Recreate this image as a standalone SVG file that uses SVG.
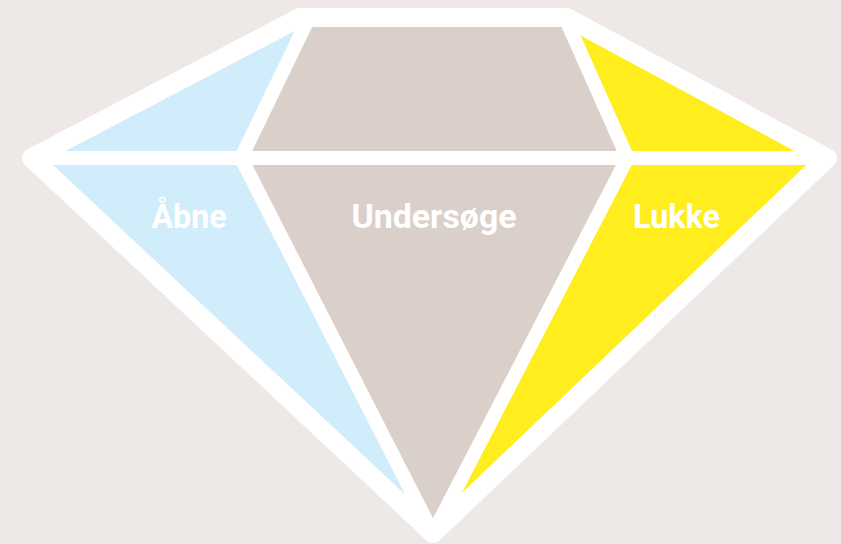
<svg xmlns="http://www.w3.org/2000/svg" width="841" height="544" viewBox="0 0 841 544">
  <style>
    .blue { fill: #D1ECFA; }
    .taupe { fill: #DBCFCA; }
    .yellow { fill: #FFED1D; }
    .outline { fill: none; stroke: #FFFFFF; stroke-width: 19; stroke-linejoin: round; }
    .inner { fill: none; stroke: #FFFFFF; stroke-width: 14; stroke-linejoin: miter; }
    .label { font-family: Roboto, "Open Sans", "Liberation Sans", sans-serif; font-weight: 700; font-size: 34px; fill: #FFFFFF; text-anchor: middle; }
  </style>
  <rect width="841" height="544" fill="#EEE9E6"/>
  <g id="abne-top"><polygon class="blue" points="31.5,158 300,17.5 309,17.5 241,158"/></g>
  <g id="abne"><polygon class="blue" points="31.5,158 241,158 433,533.5"/><text class="label" x="189" y="228" textLength="75" lengthAdjust="spacingAndGlyphs">Åbne</text></g>
  <g id="undersoge-top"><polygon class="taupe" points="309,17.5 565,17.5 627.5,158 241,158"/></g>
  <g id="undersoge"><polygon class="taupe" points="241,158 627.5,158 433,533.5"/><text class="label" x="434" y="228" textLength="165" lengthAdjust="spacingAndGlyphs">Undersøge</text></g>
  <g id="lukke-top"><polygon class="yellow" points="565,17.5 567,17.5 827.5,158 627.5,158"/></g>
  <g id="lukke"><polygon class="yellow" points="627.5,158 827.5,158 433,533.5"/><text class="label" x="676.5" y="228" textLength="87" lengthAdjust="spacingAndGlyphs">Lukke</text></g>
  <g id="connectors">
    <line class="inner" x1="31.5" y1="158" x2="827.5" y2="158"/>
    <polyline class="inner" points="309,17.5 241,158 433,533.5"/>
    <polyline class="inner" points="565,17.5 627.5,158 433,533.5"/>
    <polygon class="outline" points="31.5,158 300,17.5 567,17.5 827.5,158 433,533.5"/>
  </g>
</svg>
